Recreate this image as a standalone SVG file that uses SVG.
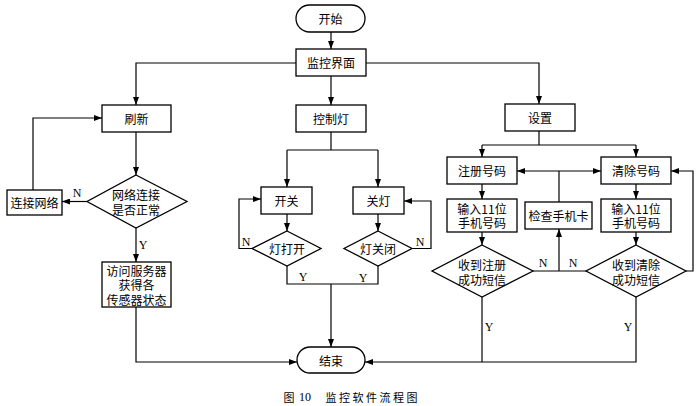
<svg xmlns="http://www.w3.org/2000/svg" width="700" height="406" viewBox="0 0 700 406">
<style>
.b{fill:#fff;stroke:#000;stroke-width:1.3}
.l{fill:none;stroke:#000;stroke-width:1.2}
.t{font-family:"Noto Sans CJK SC","Liberation Serif",serif;font-size:12px;fill:#000;text-anchor:middle;dominant-baseline:central}
.y{font-family:"Liberation Serif",serif;font-size:12px;fill:#000;text-anchor:middle;dominant-baseline:central}
.c{font-family:"Noto Sans CJK SC","Liberation Serif",serif;font-size:11px;fill:#000;text-anchor:middle;dominant-baseline:central}
</style>
<defs>
<marker id="a" viewBox="0 0 8 6" refX="8" refY="3" markerWidth="8" markerHeight="6" markerUnits="userSpaceOnUse" orient="auto">
<path d="M0,0L8,3L0,6z" fill="#000"/>
</marker>
</defs>
<rect width="700" height="406" fill="#fff"/>
<g id="connectors">
<path class="l" d="M331,32V49" marker-end="url(#a)"/>
<path class="l" d="M296,63H136V105" marker-end="url(#a)"/>
<path class="l" d="M331,76V105" marker-end="url(#a)"/>
<path class="l" d="M366,63H539V104" marker-end="url(#a)"/>
<path class="l" d="M136,132V175" marker-end="url(#a)"/>
<path class="l" d="M87,201.5H62" marker-end="url(#a)"/>
<path class="l" d="M33,190V118H102" marker-end="url(#a)"/>
<path class="l" d="M136,228V262" marker-end="url(#a)"/>
<path class="l" d="M136,307V362H297" marker-end="url(#a)"/>
<path class="l" d="M331,132V150"/>
<path class="l" d="M287,150H378"/>
<path class="l" d="M287,150V187" marker-end="url(#a)"/>
<path class="l" d="M378,150V187" marker-end="url(#a)"/>
<path class="l" d="M287,214V231" marker-end="url(#a)"/>
<path class="l" d="M378,214V231" marker-end="url(#a)"/>
<path class="l" d="M252,248.5H239V199H261" marker-end="url(#a)"/>
<path class="l" d="M412,248.5H431V201H404" marker-end="url(#a)"/>
<path class="l" d="M287,266V284H378V266"/>
<path class="l" d="M331,284V347" marker-end="url(#a)"/>
<path class="l" d="M539,131V145"/>
<path class="l" d="M482,145H636"/>
<path class="l" d="M482,145V157" marker-end="url(#a)"/>
<path class="l" d="M636,145V157" marker-end="url(#a)"/>
<path class="l" d="M559,171H517" marker-end="url(#a)"/>
<path class="l" d="M559,171H601" marker-end="url(#a)"/>
<path class="l" d="M559,202V171"/>
<path class="l" d="M482,184V199" marker-end="url(#a)"/>
<path class="l" d="M636,184V199" marker-end="url(#a)"/>
<path class="l" d="M482,232V245" marker-end="url(#a)"/>
<path class="l" d="M636,232V245" marker-end="url(#a)"/>
<path class="l" d="M533,271H586"/>
<path class="l" d="M559,271V229" marker-end="url(#a)"/>
<path class="l" d="M686,271H693V171H671" marker-end="url(#a)"/>
<path class="l" d="M482,297V362"/>
<path class="l" d="M636,297V362H365" marker-end="url(#a)"/>
</g>
<g id="start"><rect class="b" x="296" y="5" width="69" height="27" rx="13.5"/><text class="t" x="330.5" y="18.5">开始</text></g>
<g id="monitor"><rect class="b" x="296" y="49" width="70" height="27"/><text class="t" x="331" y="62.5">监控界面</text></g>
<g id="refresh"><rect class="b" x="102" y="105" width="69" height="27"/><text class="t" x="136.5" y="118.5">刷新</text></g>
<g id="control"><rect class="b" x="296" y="105" width="70" height="27"/><text class="t" x="331" y="118.5">控制灯</text></g>
<g id="settings"><rect class="b" x="505" y="104" width="70" height="27"/><text class="t" x="540" y="117.5">设置</text></g>
<g id="netcheck"><path class="b" d="M136,175L187,201.5L136,228L87,201.5Z"/><text class="t" x="136" y="194.5">网络连接</text><text class="t" x="136" y="209.5">是否正常</text></g>
<g id="connect"><rect class="b" x="7" y="190" width="55" height="25"/><text class="t" x="34.5" y="202.5">连接网络</text></g>
<g id="access"><rect class="b" x="102" y="262" width="69" height="45"/><text class="t" x="136.5" y="270">访问服务器</text><text class="t" x="136.5" y="284.5">获得各</text><text class="t" x="136.5" y="299">传感器状态</text></g>
<g id="switch"><rect class="b" x="261" y="187" width="51" height="27"/><text class="t" x="286.5" y="200.5">开关</text></g>
<g id="lightoff"><rect class="b" x="353" y="187" width="51" height="27"/><text class="t" x="378.5" y="200.5">关灯</text></g>
<g id="ison"><path class="b" d="M287,231L321,248.5L287,266L252,248.5Z"/><text class="t" x="287" y="248.5">灯打开</text></g>
<g id="isoff"><path class="b" d="M378,231L412,248.5L378,266L344,248.5Z"/><text class="t" x="378" y="248.5">灯关闭</text></g>
<g id="reg"><rect class="b" x="447" y="157" width="70" height="27"/><text class="t" x="482" y="170.5">注册号码</text></g>
<g id="clear"><rect class="b" x="601" y="157" width="70" height="27"/><text class="t" x="636" y="170.5">清除号码</text></g>
<g id="input1"><rect class="b" x="447" y="199" width="70" height="33"/><text class="t" x="482" y="208.5">输入11位</text><text class="t" x="482" y="222.5">手机号码</text></g>
<g id="checkcard"><rect class="b" x="525" y="202" width="67" height="27"/><text class="t" x="558.5" y="215.5">检查手机卡</text></g>
<g id="input2"><rect class="b" x="601" y="199" width="70" height="33"/><text class="t" x="636" y="208.5">输入11位</text><text class="t" x="636" y="222.5">手机号码</text></g>
<g id="regok"><path class="b" d="M482,245L533,271L482,297L432,271Z"/><text class="t" x="482" y="264">收到注册</text><text class="t" x="482" y="279">成功短信</text></g>
<g id="clearok"><path class="b" d="M636,245L686,271L636,297L586,271Z"/><text class="t" x="636" y="264">收到清除</text><text class="t" x="636" y="279">成功短信</text></g>
<g id="end"><rect class="b" x="297" y="347" width="68" height="26" rx="13"/><text class="t" x="331" y="360">结束</text></g>
<g id="labels">
<text class="y" x="77" y="193">N</text>
<text class="y" x="143" y="245">Y</text>
<text class="y" x="246" y="242">N</text>
<text class="y" x="303" y="277">Y</text>
<text class="y" x="420" y="242">N</text>
<text class="y" x="363" y="278">Y</text>
<text class="y" x="543" y="263">N</text>
<text class="y" x="573" y="263">N</text>
<text class="y" x="489" y="327">Y</text>
<text class="y" x="628" y="327">Y</text>
</g>
<g id="caption">
<text class="c" x="289" y="397">图</text>
<text class="c" x="305" y="397" style="font-family:'Liberation Serif',serif;font-size:12px">10</text>
<text class="c" x="331" y="397">监</text>
<text class="c" x="344.5" y="397">控</text>
<text class="c" x="358" y="397">软</text>
<text class="c" x="371.5" y="397">件</text>
<text class="c" x="385" y="397">流</text>
<text class="c" x="398.5" y="397">程</text>
<text class="c" x="412" y="397">图</text>
</g>
</svg>
